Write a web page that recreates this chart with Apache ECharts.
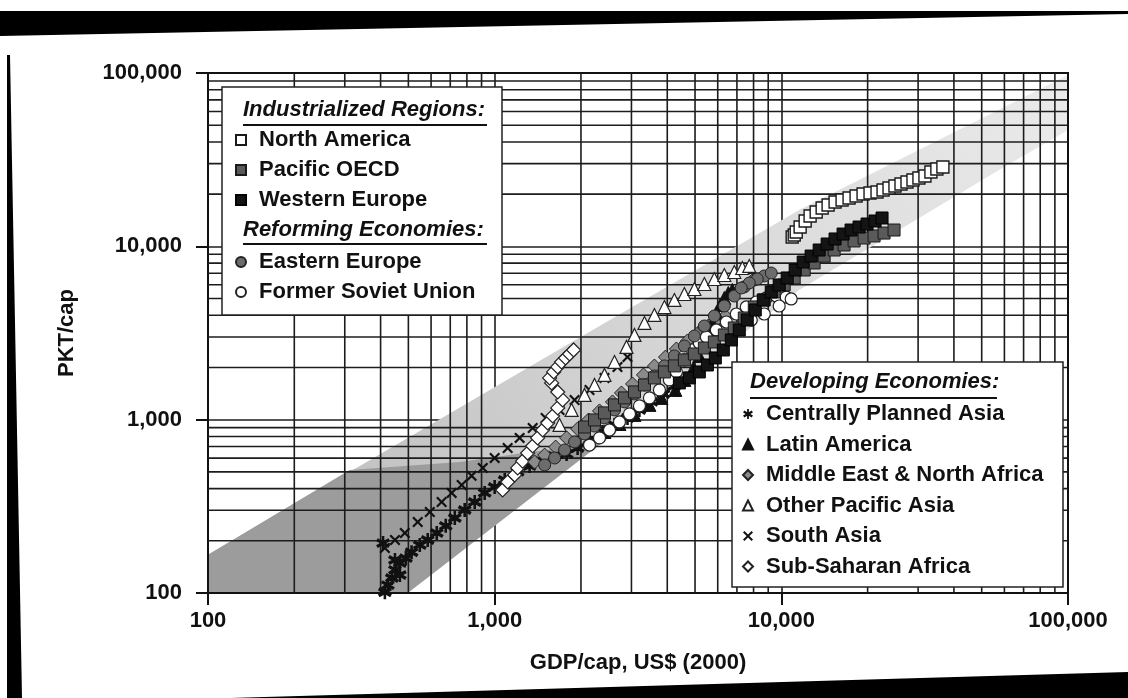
<!DOCTYPE html>
<html>
<head>
<meta charset="utf-8">
<script src="https://cdn.jsdelivr.net/npm/echarts/dist/echarts.min.js"></script>
<style>
  html, body { margin: 0; padding: 0; background: #fff; }
  #chart { width: 1128px; height: 698px; }
</style>
</head>
<body>
<div id="chart"></div>
<script>
// ---- axis ticks -------------------------------------------------------
const xTickLabels = ['100', '1,000', '10,000', '100,000'];
const yTickLabels = ['100', '1,000', '10,000', '100,000'];
const axisMin = 100;
const axisMax = 100000;
// intermediate grid values (2..9 in every decade)
const minorGridValues = [200, 300, 400, 500, 600, 700, 800, 900,
  2000, 3000, 4000, 5000, 6000, 7000, 8000, 9000,
  20000, 30000, 40000, 50000, 60000, 70000, 80000, 90000];

// ---- shaded corridor, [GDP/cap, PKT/cap] ------------------------------
const corridorOuter = [[100, 166], [1555, 2362], [11540, 16200], [100000, 97500],
  [100000, 46950], [57480, 27560], [11540, 5600], [2321, 714], [497, 100], [100, 100]];
const corridorCore = [[100, 166], [312, 513], [755, 570], [1684, 686], [2515, 795],
  [497, 100], [100, 100]];

// ---- regional trajectories, [GDP/cap, PKT/cap] ------------------------
const northAmerica = [[10910, 11320], [11090, 11630], [11270, 12090], [11630, 12930], [12110, 14000],
  [12600, 14970], [13230, 15770], [13880, 16640], [14560, 17310], [15400, 18010], [16290, 18500],
  [17230, 19000], [18230, 19520], [19280, 20040], [20390, 20300], [21570, 20570], [22640, 21130],
  [23750, 21700], [24910, 22290], [26150, 22880], [27440, 23500], [28790, 24130], [30200, 24780],
  [31690, 25450], [33250, 26840], [34880, 27930], [36610, 28680]];
const pacificOECD = [[2058, 907], [2230, 996], [2416, 1094], [2618, 1217], [2837, 1335], [3074, 1445],
  [3331, 1586], [3608, 1741], [3910, 1885], [4236, 2042], [4590, 2210], [4973, 2393], [5389, 2592],
  [5838, 2807], [6326, 3081], [6854, 3381], [7426, 3861], [8047, 4469], [8718, 4904], [9446, 5453],
  [10234, 5985], [11088, 6568], [12014, 7303], [13014, 8014], [14107, 8791], [15283, 9524],
  [16553, 10180], [17938, 10740], [19437, 11170], [21061, 11480], [22821, 11930], [24726, 12420]];
const westernEurope = [[4409, 1629], [4777, 1741], [5176, 1885], [5521, 2068], [5885, 2270], [6275, 2524],
  [6691, 2883], [7133, 3292], [7606, 3760], [8111, 4294], [8649, 4904], [9220, 5453], [9830, 5985],
  [10480, 6568], [11176, 7303], [11919, 8121], [12703, 8791], [13550, 9524], [14446, 10314],
  [15395, 11026], [16421, 11774], [17509, 12420], [18670, 12926], [19907, 13451], [21230, 14002],
  [22455, 14573]];
const easternEurope = [[1494, 548], [1619, 601], [1753, 668], [1900, 744], [2058, 827], [2230, 919],
  [2416, 1023], [2618, 1138], [2837, 1266], [3074, 1407], [3331, 1586], [3608, 1787], [3910, 2042],
  [4236, 2330], [4590, 2661], [4973, 3039], [5389, 3471], [5838, 3964], [6326, 4527], [6854, 5169],
  [7426, 5828], [8047, 6395], [8718, 6746], [9220, 7017], [8244, 6481], [7729, 6145], [7249, 5751]];
const formerSovietUnion = [[2142, 714], [2321, 785], [2515, 872], [2725, 970], [2953, 1079], [3199, 1200],
  [3466, 1335], [3756, 1484], [4069, 1695], [4305, 1885], [4590, 2210], [4895, 2524], [5176, 2770],
  [5476, 3000], [5933, 3292], [6428, 3661], [6965, 4071], [7546, 4469], [8177, 4775], [8859, 5036],
  [9598, 5169], [10399, 5095], [10822, 4970], [9830, 4527], [8718, 4071], [7854, 3760]];
const centrallyPlannedAsia = [[414, 101], [424, 111], [438, 122], [449, 136], [467, 149], [490, 159],
  [513, 172], [548, 189], [584, 202], [628, 222], [675, 244], [726, 271], [786, 301], [852, 335],
  [923, 378], [1000, 409], [1084, 449], [1203, 500], [1324, 540], [1458, 577], [1619, 617],
  [1782, 633], [1947, 686], [2142, 764], [2378, 849], [2618, 932], [2907, 1023], [3199, 1138],
  [3522, 1266], [3879, 1407], [4236, 1565], [408, 194], [449, 155], [467, 127]];
const latinAmerica = [[2142, 764], [2416, 849], [2725, 944], [3074, 1065], [3466, 1217], [3817, 1335],
  [4270, 1484], [4590, 1695], [4934, 1988], [5176, 2331], [5389, 2698], [5566, 3121], [5747, 3613],
  [5933, 4126], [6125, 4589], [6326, 5036], [6531, 5381], [6747, 5600]];
const middleEastNorthAfrica = [[1378, 570], [1494, 625], [1632, 695], [1782, 785], [1947, 884],
  [2126, 996], [2321, 1123], [2576, 1266], [2769, 1426], [3026, 1607], [3304, 1812], [3608, 2040],
  [3942, 2296], [4305, 2558], [4703, 2845], [5137, 3163], [5566, 3471], [5981, 3760], [6378, 3964],
  [5838, 3661], [5389, 3381]];
const otherPacificAsia = [[1684, 932], [1855, 1138], [2058, 1389], [2230, 1586], [2416, 1812],
  [2618, 2152], [2883, 2627], [3074, 3081], [3331, 3613], [3608, 4018], [3910, 4462], [4236, 4904],
  [4590, 5309], [4973, 5675], [5389, 6062], [5838, 6481], [6326, 6834], [6854, 7111], [7309, 7500],
  [7729, 7704]];
const southAsia = [[414, 182], [449, 202], [486, 222], [539, 257], [594, 293], [653, 335], [708, 378],
  [767, 420], [831, 474], [909, 527], [1000, 601], [1110, 686], [1222, 785], [1357, 896], [1506, 1023],
  [1684, 1138], [1900, 1300], [2142, 1484], [2416, 1741], [2682, 2015], [2906, 2300]];
const subSaharanAfrica = [[1066, 393], [1110, 437], [1174, 480], [1203, 527], [1252, 577], [1303, 642],
  [1357, 705], [1412, 785], [1470, 872], [1531, 957], [1593, 1050], [1659, 1169], [1726, 1300],
  [1659, 1445], [1580, 1629], [1555, 1741], [1606, 1885], [1659, 2015], [1711, 2152], [1767, 2270],
  [1825, 2393], [1885, 2524]];

// ---- marker shapes -----------------------------------------------------
const crossPath = 'path://M0,0.14L0.14,0L0.5,0.36L0.86,0L1,0.14L0.64,0.5L1,0.86L0.86,1L0.5,0.64L0.14,1L0,0.86L0.36,0.5Z';
const starPath = 'path://M0.41,0L0.59,0L0.59,1L0.41,1Z' +
  'M0.007,0.354L0.127,0.146L0.993,0.646L0.873,0.854Z' +
  'M0.127,0.854L0.007,0.646L0.873,0.146L0.993,0.354Z';

const fontFamily = '"Liberation Sans", Arial, Helvetica, sans-serif';
const ink = '#111';

function scatter(name, data, symbol, size, fill, border, bw) {
  return {
    name, type: 'scatter', data, symbol, symbolSize: size, z: 3,
    itemStyle: { color: fill, borderColor: border, borderWidth: bw, opacity: 1 },
    emphasis: { disabled: true }
  };
}

// polygon drawn through the axes' own scales
function areaSeries(points, fill, z) {
  return {
    type: 'custom', silent: true, z, data: points,
    renderItem(params, api) {
      if (params.dataIndex !== 0) return null;
      const pts = points.map(p => api.coord(p));
      const f = typeof fill === 'function' ? fill(api) : fill;
      return { type: 'polygon', shape: { points: pts }, style: { fill: f, stroke: null } };
    }
  };
}

function gridSeries(values, vertical) {
  return {
    type: 'custom', silent: true, z: 1,
    data: values.map(v => vertical ? [v, axisMin] : [axisMin, v]),
    renderItem(params, api) {
      const v = api.value(vertical ? 0 : 1);
      const a = api.coord(vertical ? [v, axisMin] : [axisMin, v]);
      const b = api.coord(vertical ? [v, axisMax] : [axisMax, v]);
      return {
        type: 'line', shape: { x1: a[0], y1: a[1], x2: b[0], y2: b[1] },
        style: { stroke: '#1c1c1c', lineWidth: 1.6 }
      };
    }
  };
}

const tickText = (labels) => (v) => labels[Math.round(Math.log10(v)) - 2] || '';

const legendText = { fontFamily, fontWeight: 'bold', fontSize: 22, color: ink, lineHeight: 22, padding: [0, 0, 0, 8] };
const legendBase = {
  orient: 'vertical', itemWidth: 10, itemHeight: 10, itemGap: 8, padding: 0,
  symbolKeepAspect: true, selectedMode: false, textStyle: legendText, z: 20
};

const chart = echarts.init(document.getElementById('chart'), null, { renderer: 'canvas' });

chart.setOption({
  animation: false,
  backgroundColor: '#fff',
  grid: { left: 208, right: 60, top: 73, bottom: 105, containLabel: false },
  xAxis: [{
    type: 'log', logBase: 10, min: axisMin, max: axisMax,
    name: 'GDP/cap, US$ (2000)', nameLocation: 'middle', nameGap: 59,
    nameTextStyle: { fontFamily, fontWeight: 'bold', fontSize: 22, color: ink },
    axisLine: { lineStyle: { color: ink, width: 2 } },
    axisTick: { inside: false, length: 12, lineStyle: { color: ink, width: 2 } },
    axisLabel: { margin: 17, fontFamily, fontWeight: 'bold', fontSize: 22, color: ink, formatter: tickText(xTickLabels) },
    splitLine: { show: true, lineStyle: { color: '#1c1c1c', width: 1.6 } },
    minorTick: { show: false }
  }, {
    type: 'log', logBase: 10, min: axisMin, max: axisMax, position: 'top',
    axisLine: { lineStyle: { color: ink, width: 2 } },
    axisTick: { show: false }, axisLabel: { show: false }, splitLine: { show: false }
  }],
  yAxis: [{
    type: 'log', logBase: 10, min: axisMin, max: axisMax,
    name: 'PKT/cap', nameLocation: 'middle', nameGap: 130,
    nameTextStyle: { fontFamily, fontWeight: 'bold', fontSize: 22, color: ink },
    axisLine: { show: true, lineStyle: { color: ink, width: 2 } },
    axisTick: { show: true, inside: false, length: 12, lineStyle: { color: ink, width: 2 } },
    axisLabel: { margin: 26, fontFamily, fontWeight: 'bold', fontSize: 22, color: ink, formatter: tickText(yTickLabels) },
    splitLine: { show: true, lineStyle: { color: '#1c1c1c', width: 1.6 } }
  }, {
    type: 'log', logBase: 10, min: axisMin, max: axisMax, position: 'right',
    axisLine: { show: true, lineStyle: { color: ink, width: 2 } },
    axisTick: { show: false }, axisLabel: { show: false }, splitLine: { show: false }
  }],
  legend: [
    Object.assign({}, legendBase, { left: 235, top: 129, data: ['North America', 'Pacific OECD', 'Western Europe'] }),
    Object.assign({}, legendBase, { left: 235, top: 251, data: ['Eastern Europe', 'Former Soviet Union'] }),
    Object.assign({}, legendBase, {
      left: 742, top: 403, itemGap: 8.5,
      data: ['Centrally Planned Asia', 'Latin America', 'Middle East & North Africa',
        'Other Pacific Asia', 'South Asia', 'Sub-Saharan Africa']
    })
  ],
  series: [
    areaSeries(corridorOuter, (api) => {
      const a = api.coord([axisMin, axisMin]);
      const b = api.coord([axisMax, axisMax]);
      return new echarts.graphic.LinearGradient(a[0], a[1], b[0], b[1], [
        { offset: 0, color: '#b8b8b8' }, { offset: 0.45, color: '#d2d2d2' }, { offset: 1, color: '#ebebeb' }
      ], true);
    }, 0),
    areaSeries(corridorCore, '#9c9c9c', 0),
    gridSeries(minorGridValues, true),
    gridSeries(minorGridValues, false),
    scatter('Centrally Planned Asia', centrallyPlannedAsia, starPath, 14, '#111', '#111', 0),
    scatter('South Asia', southAsia, crossPath, 11, '#111', '#111', 0),
    scatter('Sub-Saharan Africa', subSaharanAfrica, 'diamond', 14, '#fff', '#222', 1.2),
    scatter('Middle East & North Africa', middleEastNorthAfrica, 'diamond', 14, '#8a8a8a', '#222', 1),
    scatter('Other Pacific Asia', otherPacificAsia, 'triangle', 13, '#fff', '#222', 1.2),
    scatter('Latin America', latinAmerica, 'triangle', 13, '#111', '#111', 1),
    scatter('Former Soviet Union', formerSovietUnion, 'circle', 12, '#fff', '#222', 1.2),
    scatter('Eastern Europe', easternEurope, 'circle', 12, '#6c6c6c', '#222', 1),
    scatter('Pacific OECD', pacificOECD, 'rect', 12, '#5a5a5a', '#1a1a1a', 1),
    scatter('Western Europe', westernEurope, 'rect', 12, '#141414', '#000', 1),
    scatter('North America', northAmerica, 'rect', 12, '#fff', '#1a1a1a', 1.4)
  ],
  graphic: [
    // legend panels
    { type: 'rect', z: 15, shape: { x: 222, y: 87, width: 280, height: 228 }, style: { fill: '#fff', stroke: '#222', lineWidth: 1.5 } },
    { type: 'rect', z: 15, shape: { x: 732, y: 362, width: 331, height: 225 }, style: { fill: '#fff', stroke: '#222', lineWidth: 1.5 } },
    // group headings
    { type: 'text', z: 21, x: 243, y: 110, style: { text: 'Industrialized Regions:', font: 'italic bold 22px ' + fontFamily, fill: ink, verticalAlign: 'middle' } },
    { type: 'line', z: 21, shape: { x1: 243, y1: 125, x2: 487, y2: 125 }, style: { stroke: ink, lineWidth: 2 } },
    { type: 'text', z: 21, x: 243, y: 230, style: { text: 'Reforming Economies:', font: 'italic bold 22px ' + fontFamily, fill: ink, verticalAlign: 'middle' } },
    { type: 'line', z: 21, shape: { x1: 243, y1: 244, x2: 487, y2: 244 }, style: { stroke: ink, lineWidth: 2 } },
    { type: 'text', z: 21, x: 750, y: 382, style: { text: 'Developing Economies:', font: 'italic bold 22px ' + fontFamily, fill: ink, verticalAlign: 'middle' } },
    { type: 'line', z: 21, shape: { x1: 750, y1: 398, x2: 997, y2: 398 }, style: { stroke: ink, lineWidth: 2 } },
    // dark page edges of the scanned sheet
    { type: 'polygon', z: 30, shape: { points: [[0, 11], [1128, 11], [1128, 14], [0, 36]] }, style: { fill: '#000' } },
    { type: 'polygon', z: 30, shape: { points: [[7, 55], [10, 55], [22, 698], [7, 698]] }, style: { fill: '#000' } },
    { type: 'polygon', z: 30, shape: { points: [[230, 698], [1128, 672], [1128, 698]] }, style: { fill: '#000' } }
  ]
});
</script>
</body>
</html>
